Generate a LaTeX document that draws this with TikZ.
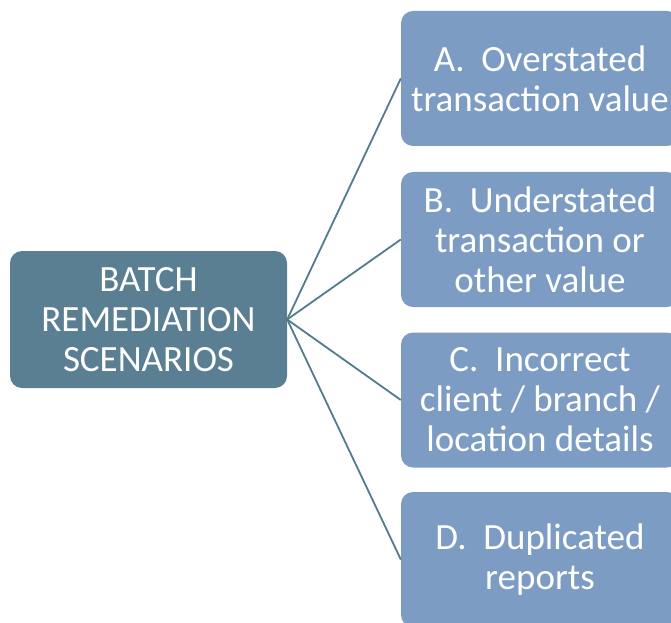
\documentclass[tikz,border=0pt]{standalone}
\usepackage{fontspec}
\setmainfont{Carlito}
\definecolor{rootblue}{HTML}{5A7F93}
\definecolor{leafblue}{HTML}{7C9CC3}
\definecolor{linkblue}{HTML}{527B8E}
\begin{document}
\begin{tikzpicture}[x=1pt, y=1pt,
    root node/.style={rectangle, rounded corners=12pt, fill=rootblue, text=white,
      minimum width=277pt, minimum height=137pt, align=center,
      font=\fontsize{37}{40}\selectfont, inner sep=0pt},
    leaf node/.style={rectangle, rounded corners=12pt, fill=leafblue, text=white,
      minimum width=278pt, minimum height=135pt, align=center,
      font=\fontsize{37}{40}\selectfont, inner sep=0pt},
    link/.style={draw=linkblue, line width=1.8pt}]

    \useasboundingbox (0,0) rectangle (671,622);

    % Root
    \node[root node] (R) at (148.5,302.5) {BATCH\\REMEDIATION\\SCENARIOS};

    % Scenarios
    \node[leaf node] (A) at (540,543.5) {A.\ \ Overstated\\transaction value};
    \node[leaf node] (B) at (540,382.5) {B.\ \ Understated\\transaction or\\other value};
    \node[leaf node] (C) at (540,222) {C.\ \ Incorrect\\client / branch /\\location details};
    \node[leaf node] (D) at (540,62.5) {D.\ \ Duplicated\\reports};

    \draw[link] (R.east) -- (A.west);
    \draw[link] (R.east) -- (B.west);
    \draw[link] (R.east) -- (C.west);
    \draw[link] (R.east) -- (D.west);

\end{tikzpicture}
\end{document}
